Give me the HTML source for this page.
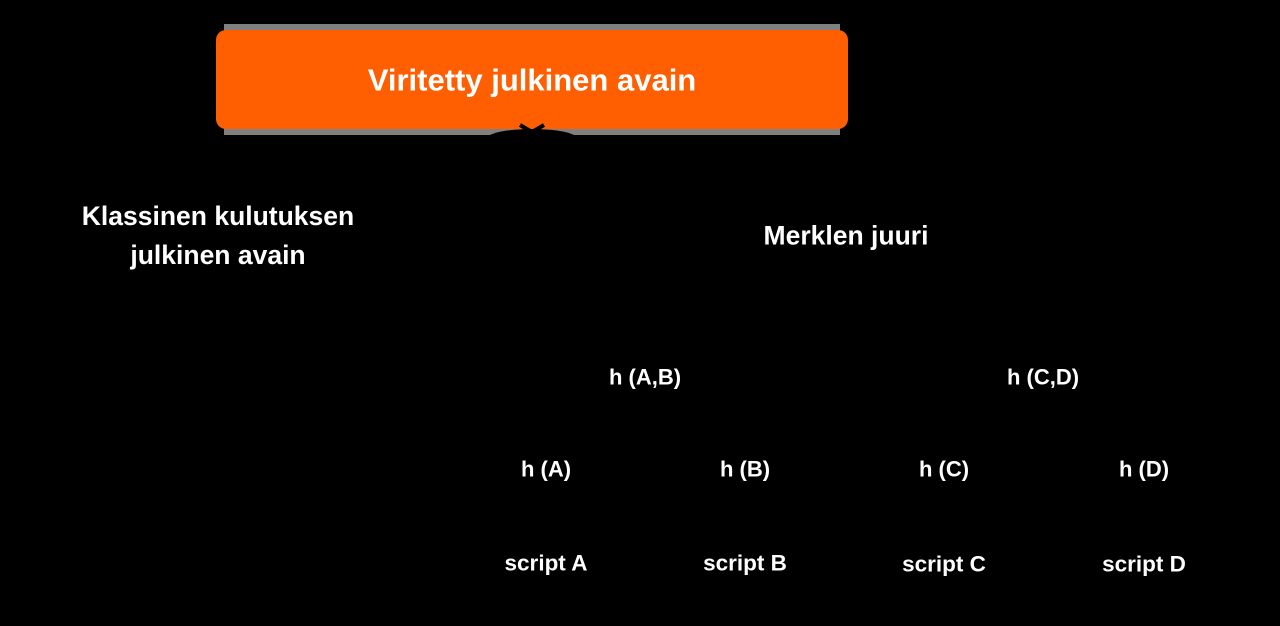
<!DOCTYPE html>
<html><head><meta charset="utf-8"><style>
html,body{margin:0;padding:0;background:#000;}
body{width:1280px;height:626px;position:relative;overflow:hidden;font-family:"Liberation Sans",sans-serif;font-weight:bold;color:#fff;}
.t{position:absolute;white-space:nowrap;transform:translate(-50%,-50%);font-size:21px;text-align:center;line-height:39px;}
.h{font-size:22px;}
.s{font-size:22.5px;}
</style></head><body>
<div style="position:absolute;left:224px;top:24px;width:616px;height:111px;background:#808080;"></div>
<div style="position:absolute;left:216px;top:30px;width:632px;height:99px;background:#ff5f00;border-radius:10px;"></div>
<div style="position:absolute;left:486px;top:129px;width:92px;height:10px;background:#000;border-radius:50% 50% 0 0/100% 100% 0 0;"></div>
<svg style="position:absolute;left:0;top:0" width="1280" height="626"><path d="M520 125 L532 132 L544 125" stroke="#000" stroke-width="4" fill="none"/></svg>
<div class="t" style="left:532px;top:80px;font-size:31px;">Viritetty julkinen avain</div>
<div class="t" style="left:218px;top:236px;font-size:26.5px;">Klassinen kulutuksen<br>julkinen avain</div>
<div class="t" style="left:846px;top:236px;font-size:26.5px;">Merklen juuri</div>
<div class="t h" style="left:645px;top:377px;">h (A,B)</div>
<div class="t h" style="left:1043px;top:377px;">h (C,D)</div>
<div class="t h" style="left:546px;top:469px;">h (A)</div>
<div class="t h" style="left:745px;top:469px;">h (B)</div>
<div class="t h" style="left:944px;top:469px;">h (C)</div>
<div class="t h" style="left:1144px;top:469px;">h (D)</div>
<div class="t s" style="left:546px;top:563px;">script A</div>
<div class="t s" style="left:745px;top:563px;">script B</div>
<div class="t s" style="left:944px;top:564px;">script C</div>
<div class="t s" style="left:1144px;top:564px;">script D</div>
</body></html>
